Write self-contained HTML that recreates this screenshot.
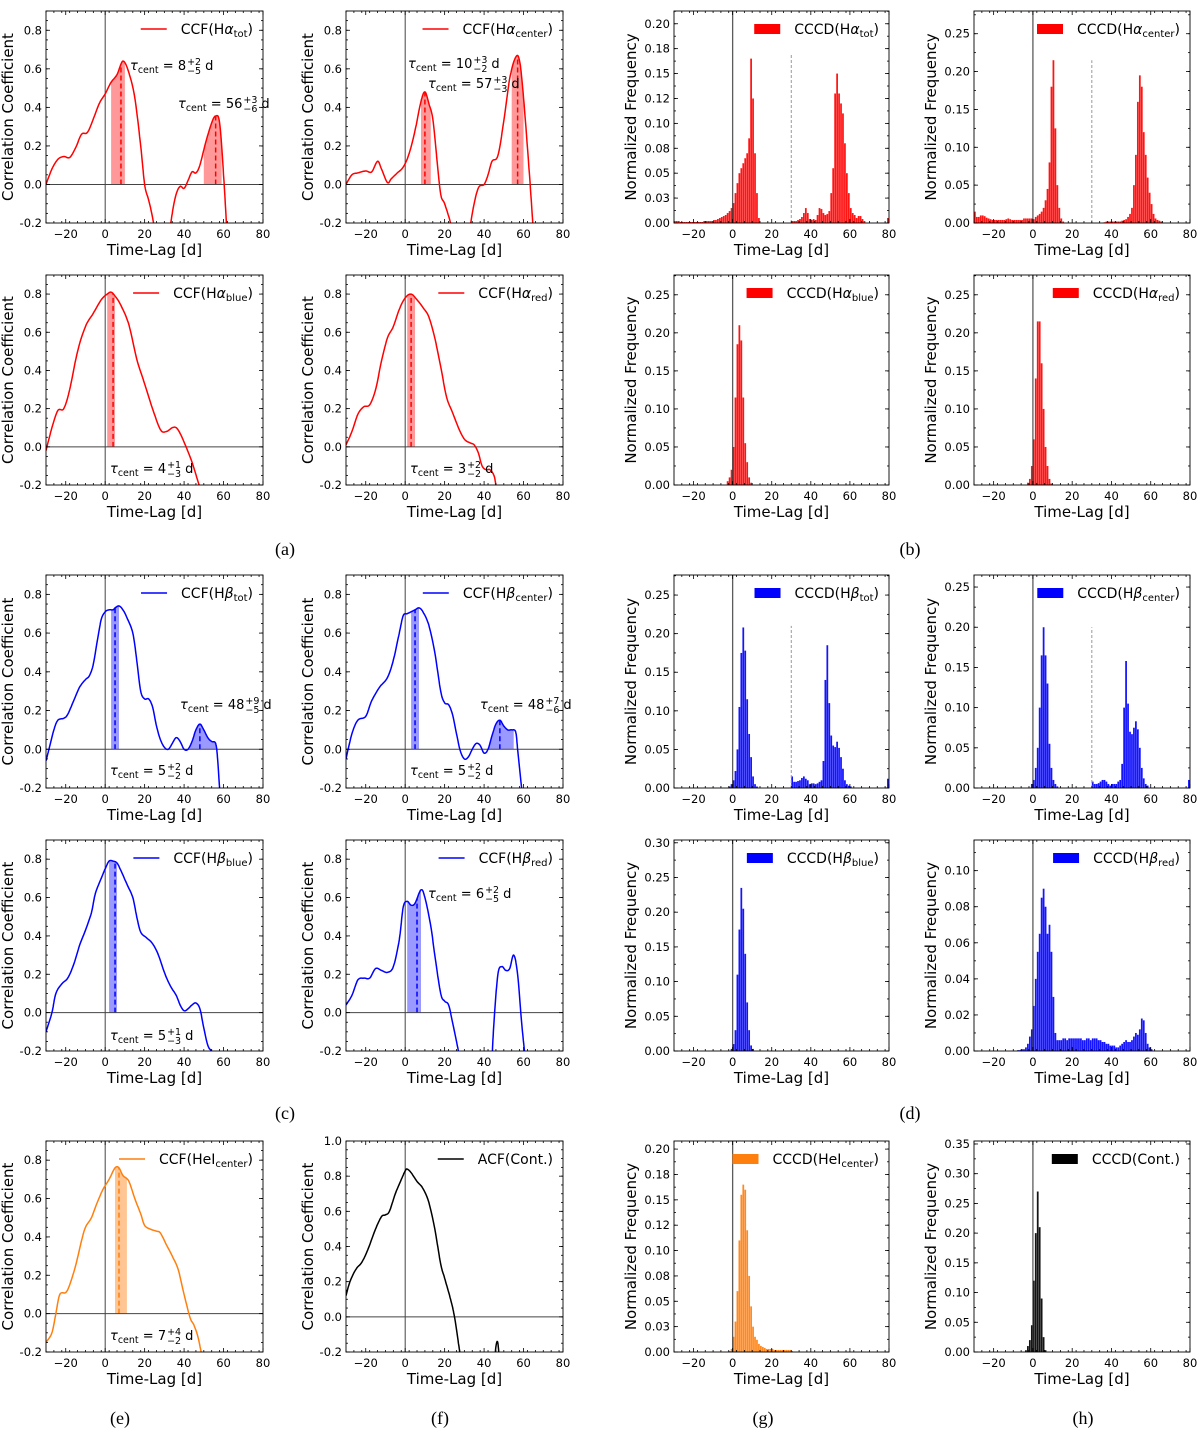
<!DOCTYPE html>
<html><head><meta charset="utf-8">
<style>
html,body{margin:0;padding:0;background:#fff;}
svg{display:block;font-family:"DejaVu Sans","Liberation Sans",sans-serif;}
</style></head>
<body>
<svg id="fig" width="1200" height="1432" viewBox="0 0 1200 1432" xmlns="http://www.w3.org/2000/svg"></svg>
<script>
// ---- CCF data (lag in days, correlation r); null breaks a curve ----
const haTotLag=[-30,-27,-24,-21,-18,-15,-12,-9,-6,-3,0,3,6,9,12,15,18,20,22,24,26,null,32,34,36,38,40,42,44,46,48,51,54,56,58,60,62];
const haTotR=[0,0.08,0.13,0.145,0.14,0.19,0.26,0.27,0.34,0.42,0.47,0.53,0.57,0.64,0.58,0.45,0.2,0,-0.08,-0.17,-0.3,null,-0.3,-0.15,-0.05,-0.01,-0.02,0.02,0.065,0.06,0.1,0.22,0.32,0.355,0.32,0.05,-0.3];
const haCenLag=[-30,-27,-24,-20,-17,-14,-12,-9,-7,-4,-1,2,5,8,10,12,14,16,18,20,23,25,null,32,34,37,40,42,44,47,50,53,56,58,60,63,65];
const haCenR=[0,0.05,0.06,0.07,0.065,0.12,0.08,0.01,0.03,0.06,0.09,0.16,0.28,0.43,0.48,0.42,0.34,0.14,-0.05,-0.1,-0.2,-0.3,null,-0.3,-0.15,-0.02,0,0.05,0.12,0.15,0.33,0.55,0.66,0.64,0.45,0.05,-0.25];
const haBlueLag=[-30,-27,-24,-21,-18,-14,-10,-6,-2,1,3,5,8,12,16,20,24,28,31,34,36,38,41,44,47,49];
const haBlueR=[-0.02,0.1,0.19,0.2,0.3,0.5,0.63,0.7,0.77,0.8,0.81,0.79,0.74,0.64,0.46,0.33,0.2,0.09,0.08,0.1,0.1,0.07,0,-0.08,-0.18,-0.25];
const haRedLag=[-30,-27,-24,-21,-18,-15,-12,-9,-6,-3,0,3,6,9,12,15,18,21,24,27,30,33,35,37,39,41,43,45,46,47];
const haRedR=[0.01,0.08,0.17,0.21,0.22,0.3,0.45,0.57,0.63,0.72,0.78,0.8,0.77,0.73,0.68,0.57,0.42,0.26,0.18,0.1,0.04,0.02,0.01,-0.03,-0.1,-0.12,-0.12,-0.15,-0.2,-0.25];
const hbTotLag=[-30,-28,-26,-24,-21,-19,-16,-13,-10,-8,-6,-4,-2,0,2,4,5,7,9,11,14,16,18,20,22,24,26,28,30,32,34,36,38,40,42,44,46,48,50,52,54,56,57,58,59];
const hbTotR=[-0.06,0.02,0.1,0.15,0.16,0.18,0.25,0.32,0.36,0.38,0.44,0.56,0.67,0.71,0.72,0.72,0.73,0.74,0.72,0.68,0.6,0.46,0.3,0.26,0.26,0.22,0.12,0.05,0.01,0,0.03,0.06,0.04,0,0,0.04,0.1,0.13,0.1,0.06,0.04,0.03,-0.05,-0.2,-0.3];
const hbCenLag=[-30,-27,-24,-20,-17,-13,-9,-6,-3,-1,1,3,5,7,9,12,15,18,20,22,24,26,28,30,32,34,36,38,40,42,44,46,48,50,52,54,56,57,58,59,60];
const hbCenR=[-0.05,0.08,0.15,0.17,0.25,0.32,0.37,0.46,0.6,0.69,0.7,0.71,0.72,0.73,0.71,0.64,0.5,0.3,0.24,0.23,0.18,0.08,-0.01,-0.05,-0.04,0,0.03,0.02,-0.02,0,0.07,0.13,0.15,0.12,0.1,0.1,0.09,0,-0.1,-0.2,-0.3];
const hbBlueLag=[-30,-27,-25,-22,-19,-16,-13,-10,-7,-5,-2,0,2,4,6,8,11,14,16,18,21,24,27,30,33,36,38,40,42,44,46,48,50,52,54,56];
const hbBlueR=[-0.1,0,0.1,0.15,0.18,0.25,0.35,0.43,0.52,0.62,0.7,0.75,0.79,0.79,0.78,0.74,0.67,0.6,0.5,0.42,0.39,0.36,0.3,0.21,0.14,0.09,0.04,0.01,0.02,0.04,0.05,0.02,-0.08,-0.17,-0.2,-0.22];
const hbRedLag=[-30,-27,-24,-21,-18,-15,-12,-9,-6,-3,-1,1,3,5,8,10,13,15,18,20,22,24,26,28,null,44,45,47,49,51,53,55,57,59,61];
const hbRedR=[0.04,0.09,0.17,0.18,0.18,0.23,0.22,0.21,0.24,0.38,0.55,0.58,0.56,0.57,0.64,0.6,0.45,0.3,0.1,0.06,0.04,-0.05,-0.15,-0.25,null,-0.25,-0.05,0.2,0.24,0.22,0.23,0.3,0.2,-0.05,-0.25];
const heiLag=[-30,-27,-25,-23,-20,-18,-15,-12,-10,-7,-4,-1,2,5,7,9,12,15,18,20,23,26,28,31,34,37,40,43,45,47,49];
const heiR=[-0.15,-0.1,0,0.1,0.11,0.15,0.25,0.38,0.45,0.5,0.58,0.65,0.7,0.76,0.76,0.72,0.69,0.6,0.52,0.46,0.44,0.43,0.42,0.36,0.3,0.23,0.1,-0.02,-0.06,-0.12,-0.22];
const acfLag=[-30,-28,-25,-22,-19,-15,-12,-10,-8,-5,-2,0,1,3,6,9,12,15,18,20,23,25,27,29,null,45,46,47,48];
const acfR=[0.12,0.2,0.27,0.31,0.38,0.5,0.57,0.58,0.6,0.7,0.78,0.83,0.84,0.82,0.77,0.73,0.65,0.5,0.3,0.22,0.1,0,-0.15,-0.3,null,-0.3,-0.17,-0.15,-0.3];

// ---- CCCD histogram data: first bin lag, then 1-day bin frequencies ----
const haTotStart=-30;
const haTotFreq=[0.002,0.002,0.002,0.001,0.001,0.001,0.001,0.001,0.001,0.001,0.001,0.001,0.001,0.001,0.001,0.002,0.002,0.002,0.002,0.002,0.003,0.003,0.004,0.005,0.006,0.007,0.008,0.01,0.012,0.015,0.02,0.03,0.04,0.05,0.055,0.06,0.065,0.07,0.085,0.165,0.125,0.07,0.03,0.005,0,0,0,0,0,0,0,0,0,0,0,0,0,0,0,0,0.002,0.002,0.002,0.003,0.004,0.006,0.01,0.015,0.01,0.004,0.003,0.004,0.003,0.008,0.015,0.014,0.01,0.008,0.009,0.012,0.03,0.055,0.13,0.15,0.13,0.12,0.11,0.08,0.05,0.03,0.015,0.01,0.008,0.005,0.007,0.007,0.004,0.002,0,0,0,0,0,0,0,0,0,0,0,0.005];
const haCenStart=-30;
const haCenFreq=[0.015,0.008,0.008,0.01,0.01,0.009,0.007,0.006,0.005,0.004,0.004,0.004,0.004,0.004,0.004,0.004,0.005,0.006,0.005,0.004,0.004,0.004,0.004,0.004,0.004,0.006,0.006,0.006,0.006,0.006,0.005,0.008,0.01,0.012,0.015,0.02,0.03,0.045,0.08,0.18,0.215,0.125,0.05,0.02,0.006,0.002,0,0,0,0,0,0,0,0,0,0,0,0,0,0,0,0,0,0,0,0,0.001,0.002,0.002,0.002,0.002,0.002,0.002,0.002,0.002,0.003,0.004,0.005,0.008,0.012,0.02,0.05,0.09,0.16,0.195,0.18,0.12,0.09,0.06,0.04,0.025,0.012,0.006,0.004,0.003,0.002];
const haBlueStart=-3;
const haBlueFreq=[0.005,0.01,0.02,0.05,0.115,0.185,0.21,0.19,0.115,0.055,0.03,0.01,0.003];
const haRedStart=-3;
const haRedFreq=[0.003,0.008,0.025,0.06,0.14,0.215,0.215,0.16,0.1,0.05,0.025,0.008,0.002];
const hbTotStart=-2;
const hbTotFreq=[0.002,0.005,0.01,0.022,0.05,0.105,0.175,0.208,0.178,0.115,0.07,0.04,0.015,0.005,0.002,0,0,0,0,0,0,0,0,0,0,0,0,0,0,0,0,0,0.015,0.008,0.008,0.009,0.01,0.013,0.015,0.012,0.01,0.005,0.006,0.006,0.005,0.006,0.008,0.01,0.035,0.14,0.185,0.11,0.068,0.055,0.053,0.06,0.052,0.04,0.025,0.01,0.005,0.003,0.002,0,0,0,0,0,0,0,0,0,0,0,0,0,0,0,0,0,0,0.012];
const hbCenStart=-1;
const hbCenFreq=[0.005,0.01,0.025,0.05,0.1,0.165,0.2,0.165,0.13,0.055,0.025,0.01,0.005,0.002,0,0,0,0,0,0,0,0,0,0,0,0,0,0,0,0,0,0.008,0.005,0.005,0.006,0.008,0.01,0.01,0.008,0.005,0.003,0.005,0.005,0.005,0.008,0.01,0.03,0.1,0.158,0.105,0.07,0.067,0.075,0.083,0.073,0.05,0.025,0.012,0.005,0.003,0,0,0,0,0,0,0,0,0,0,0,0,0,0,0,0,0,0,0,0,0.01];
const hbBlueStart=-1;
const hbBlueFreq=[0.003,0.01,0.03,0.11,0.175,0.235,0.205,0.14,0.07,0.03,0.008,0.003];
const hbRedStart=-8;
const hbRedFreq=[0.0005,0.0005,0.001,0.001,0.002,0.004,0.008,0.012,0.025,0.04,0.055,0.065,0.085,0.09,0.08,0.065,0.07,0.055,0.03,0.01,0.006,0.006,0.006,0.007,0.007,0.006,0.007,0.007,0.007,0.007,0.007,0.007,0.007,0.006,0.006,0.007,0.007,0.006,0.007,0.007,0.007,0.006,0.006,0.005,0.005,0.004,0.004,0.003,0.003,0.003,0.002,0.002,0.003,0.004,0.005,0.006,0.005,0.005,0.006,0.008,0.01,0.009,0.012,0.018,0.017,0.01,0.004,0.002,0.001];
const heiStart=-2;
const heiFreq=[0.001,0.003,0.015,0.03,0.06,0.11,0.155,0.165,0.16,0.12,0.075,0.045,0.025,0.015,0.012,0.008,0.006,0.005,0.004,0.003,0.003,0.003,0.003,0.002,0.002,0.002,0.002,0.002,0.002,0.002,0.002,0.002,0.001];
const contStart=-4;
const contFreq=[0.003,0.01,0.02,0.045,0.12,0.2,0.27,0.21,0.09,0.025,0.003];

// ---- tick labels ----
const xTicks=[-20,0,20,40,60,80];
const xTickLabels=["\u221220","0","20","40","60","80"];
const ccfYTicks=[-0.2,0,0.2,0.4,0.6,0.8];
const ccfYLabels=["-0.2","0.0","0.2","0.4","0.6","0.8"];
const acfYTicks=[-0.2,0,0.2,0.4,0.6,0.8,1.0];
const acfYLabels=["-0.2","0.0","0.2","0.4","0.6","0.8","1.0"];
const h20Ticks=[0,0.025,0.05,0.075,0.1,0.125,0.15,0.175,0.2];
const h20Labels=["0.00","0.03","0.05","0.08","0.10","0.12","0.15","0.18","0.20"];
const h25Ticks=[0,0.05,0.1,0.15,0.2,0.25];
const h25Labels=["0.00","0.05","0.10","0.15","0.20","0.25"];
const h30Ticks=[0,0.05,0.1,0.15,0.2,0.25,0.3];
const h30Labels=["0.00","0.05","0.10","0.15","0.20","0.25","0.30"];
const h35Ticks=[0,0.05,0.1,0.15,0.2,0.25,0.3,0.35];
const h35Labels=["0.00","0.05","0.10","0.15","0.20","0.25","0.30","0.35"];
const h10Ticks=[0,0.02,0.04,0.06,0.08,0.1];
const h10Labels=["0.00","0.02","0.04","0.06","0.08","0.10"];

const NS="http://www.w3.org/2000/svg";
const svg=document.getElementById('fig');
const COLS=[[46,263],[346,563],[674,889],[974,1190]];
const ROWS=[[11,223],[275,485],[575,788],[840,1051],[1141,1352]];
let clipId=0;

function mk(tag,parent){const e=document.createElementNS(NS,tag);parent.appendChild(e);return e;}

function axes(col,row,ymin,ymax,yT,yL,ylabel,name,yMinor){
  const [x0,x1]=COLS[col],[y0,y1]=ROWS[row];
  const g=mk('g',svg);
  
  
  const xs=v=>x0+(v+30)/110*(x1-x0);
  const ys=v=>y1-(v-ymin)/(ymax-ymin)*(y1-y0);
  const cid='c'+(clipId++);
  const cp=mk('clipPath',g);cp.setAttribute('id',cid);
  const cr=mk('rect',cp);cr.setAttribute('x',x0);cr.setAttribute('y',y0);cr.setAttribute('width',x1-x0);cr.setAttribute('height',y1-y0);
  const plot=mk('g',g);plot.setAttribute('clip-path','url(#'+cid+')');
  
  
  const tk=mk('g',g);tk.setAttribute('stroke','#000');tk.setAttribute('stroke-width','0.8');
  function line(p,a,b,c,d){const l=mk('line',p);l.setAttribute('x1',a);l.setAttribute('y1',b);l.setAttribute('x2',c);l.setAttribute('y2',d);return l;}
  for(let v=-30;v<=80;v+=4){ if(v%20===0) continue; const X=xs(v); line(tk,X,y1,X,y1-2);line(tk,X,y0,X,y0+2);}
  xTicks.forEach((v,i)=>{const X=xs(v);line(tk,X,y1,X,y1-4);line(tk,X,y0,X,y0+4);
    const t=mk('text',g);t.setAttribute('x',X);t.setAttribute('y',y1+15);t.setAttribute('text-anchor','middle');t.setAttribute('font-size','11.5');t.textContent=xTickLabels[i];
    
    });
  for(let v=ymin;v<=ymax+1e-9;v+=yMinor){const Y=ys(v);line(tk,x0,Y,x0+2,Y);line(tk,x1,Y,x1-2,Y);}
  yT.forEach((v,i)=>{const Y=ys(v);line(tk,x0,Y,x0+4,Y);line(tk,x1,Y,x1-4,Y);
    const t=mk('text',g);t.setAttribute('x',x0-4);t.setAttribute('y',Y+4);t.setAttribute('text-anchor','end');t.setAttribute('font-size','11.5');t.textContent=yL[i];
    
    });
  const fr=mk('rect',g);fr.setAttribute('x',x0);fr.setAttribute('y',y0);fr.setAttribute('width',x1-x0);fr.setAttribute('height',y1-y0);fr.setAttribute('fill','none');fr.setAttribute('stroke','#000');fr.setAttribute('stroke-width','0.9');
  
  
  const xl=mk('text',g);xl.setAttribute('x',(x0+x1)/2);xl.setAttribute('y',y1+32);xl.setAttribute('text-anchor','middle');xl.setAttribute('font-size','15');xl.textContent='Time-Lag [d]';
  
  
  const lx=x0-(col<2?33:38), ly=(y0+y1)/2;
  const yl=mk('text',g);yl.setAttribute('x',lx);yl.setAttribute('y',ly);yl.setAttribute('text-anchor','middle');yl.setAttribute('font-size','15');yl.setAttribute('transform','rotate(-90 '+lx+' '+ly+')');yl.textContent=ylabel;
  
  
  return {g,plot,xs,ys,x0,x1,y0,y1,line};
}

function spline(lags,vals){
  const segs=[];let cur=[];
  for(let i=0;i<lags.length;i++){ if(lags[i]===null){ if(cur.length) segs.push(cur); cur=[]; } else cur.push([lags[i],vals[i]]); }
  if(cur.length) segs.push(cur);
  return segs.map(p=>{const out=[];
    for(let i=0;i<p.length-1;i++){const a=p[Math.max(0,i-1)],b=p[i],c=p[i+1],d=p[Math.min(p.length-1,i+2)];
      for(let s=0;s<10;s++){const t=s/10,t2=t*t,t3=t2*t;
        const f=(q)=>0.5*((2*b[q])+(-a[q]+c[q])*t+(2*a[q]-5*b[q]+4*c[q]-d[q])*t2+(-a[q]+3*b[q]-3*c[q]+d[q])*t3);
        out.push([f(0),f(1)]);}}
    out.push(p[p.length-1]);return out;});
}
function valAt(segs,x){for(const s of segs){for(let i=0;i<s.length-1;i++){if(s[i][0]<=x&&s[i+1][0]>=x){const t=(x-s[i][0])/((s[i+1][0]-s[i][0])||1);return s[i][1]+t*(s[i+1][1]-s[i][1]);}}}return 0;}

function legendText(parent,x,y,parts){
  const t=mk('text',parent);t.setAttribute('x',x);t.setAttribute('y',y);t.setAttribute('font-size','14');t.setAttribute('text-anchor','end');
  parts.forEach(p=>{const s=mk('tspan',t);s.textContent=p[0];
    if(p[1]==='i') s.setAttribute('font-style','italic');
    if(p[1]==='sub'){s.setAttribute('font-size','10');s.setAttribute('dy','3');}
    if(p[1]==='after'){s.setAttribute('dy','-3');}});
  return t;
}
function legend(ax,parts,color,patch,name){
  const g=mk('g',ax.g);
  
  
  const tx=ax.x1-10, ty=ax.y0+23;
  const t=legendText(g,tx,ty,parts);
  const w=t.getComputedTextLength()+6;
  if(patch){const r=mk('rect',g);r.setAttribute('x',tx-w-34);r.setAttribute('y',ty-10);r.setAttribute('width',26);r.setAttribute('height',10);r.setAttribute('fill',color);
    
    }
  else{const l=ax.line(g,tx-w-34,ty-5,tx-w-8,ty-5);l.setAttribute('stroke',color);l.setAttribute('stroke-width','1.5');
    
    }
}
function tau(ax,x,y,val,plus,minus){
  const g=mk('g',ax.g);
  
  
  const t=mk('text',g);t.setAttribute('x',x);t.setAttribute('y',y);t.setAttribute('font-size','13');
  const a=mk('tspan',t);a.textContent='\u03c4';a.setAttribute('font-style','italic');
  const b=mk('tspan',t);b.textContent='cent';b.setAttribute('font-size','9.5');b.setAttribute('dy','3');
  const c=mk('tspan',t);c.textContent=' = '+val;c.setAttribute('dy','-3');
  const w=t.getComputedTextLength();
  const p=mk('text',g);p.setAttribute('x',x+w+1);p.setAttribute('y',y-5);p.setAttribute('font-size','9.5');p.textContent='+'+plus;
  const m=mk('text',g);m.setAttribute('x',x+w+1);m.setAttribute('y',y+4);m.setAttribute('font-size','9.5');m.textContent='\u2212'+minus;
  const w2=Math.max(p.getComputedTextLength(),m.getComputedTextLength());
  const d=mk('text',g);d.setAttribute('x',x+w+w2+5);d.setAttribute('y',y);d.setAttribute('font-size','13');d.textContent='d';
}
function shade(ax,segs,lo,hi,mid,color,fill){
  const pts=[[lo,0]];for(let v=lo;v<=hi+1e-9;v+=0.25)pts.push([v,valAt(segs,v)]);pts.push([hi,0]);
  const pg=mk('polygon',ax.plot);pg.setAttribute('points',pts.map(p=>ax.xs(p[0]).toFixed(1)+','+ax.ys(p[1]).toFixed(1)).join(' '));pg.setAttribute('fill',fill);pg.setAttribute('stroke','none');
  
  
  const l=ax.line(ax.plot,ax.xs(mid),ax.ys(0),ax.xs(mid),ax.ys(valAt(segs,mid)));l.setAttribute('stroke',color);l.setAttribute('stroke-width','1.5');l.setAttribute('stroke-dasharray','5,3');
  
  
}
function ccfPanel(col,row,lags,vals,color,fill,parts,shades,taus,isAcf){
  const ax=axes(col,row,-0.2,isAcf?1.0:0.9,isAcf?acfYTicks:ccfYTicks,isAcf?acfYLabels:ccfYLabels,'Correlation Coefficient',isAcf?'acf-panel':'ccf-panel',0.05);
  const segs=spline(lags,vals);
  shades.forEach(s=>shade(ax,segs,s[0],s[1],s[2],color,fill));
  const hz=ax.line(ax.plot,ax.x0,ax.ys(0),ax.x1,ax.ys(0));hz.setAttribute('stroke','#444');hz.setAttribute('stroke-width','1');
  
  
  const vz=ax.line(ax.plot,ax.xs(0),ax.y0,ax.xs(0),ax.y1);vz.setAttribute('stroke','#444');vz.setAttribute('stroke-width','1');
  
  
  segs.forEach(s=>{const p=mk('path',ax.plot);p.setAttribute('d','M'+s.map(q=>ax.xs(q[0]).toFixed(1)+','+ax.ys(q[1]).toFixed(1)).join('L'));p.setAttribute('fill','none');p.setAttribute('stroke',color);p.setAttribute('stroke-width','1.5');
    
    });
  legend(ax,parts,color,false,'legend');
  taus.forEach(t=>tau(ax,t[0],t[1],t[2],t[3],t[4]));
}
function histPanel(col,row,start,freq,color,ymax,yT,yL,yMinor,parts,dash){
  const ax=axes(col,row,0,ymax,yT,yL,'Normalized Frequency','cccd-panel',yMinor);
  freq.forEach((f,i)=>{ if(f<=0) return; const lag=start+i;
    const r=mk('rect',ax.plot);const xa=ax.xs(lag),xb=ax.xs(lag+1);
    r.setAttribute('x',xa.toFixed(2));r.setAttribute('width',(xb-xa-0.2).toFixed(2));r.setAttribute('y',ax.ys(f).toFixed(2));r.setAttribute('height',(ax.ys(0)-ax.ys(f)).toFixed(2));r.setAttribute('fill',color);r.setAttribute('fill-opacity','0.92');
    
    });
  const vz=ax.line(ax.plot,ax.xs(0),ax.y0,ax.xs(0),ax.y1);vz.setAttribute('stroke','#333');vz.setAttribute('stroke-width','1.3');vz.setAttribute('stroke-opacity','0.8');
  
  
  if(dash){const d=ax.line(ax.plot,ax.xs(30),ax.ys(0),ax.xs(30),ax.ys(dash));d.setAttribute('stroke','#999');d.setAttribute('stroke-width','1');d.setAttribute('stroke-dasharray','3,2');
    
    }
  legend(ax,parts,color,true,'legend');
}

const RED='#ff0000',BLUE='#0000ff',ORG='#ff7f0e';
ccfPanel(0,0,haTotLag,haTotR,RED,'rgba(255,0,0,0.4)',[['CCF(H'],['\u03b1','i'],['tot','sub'],[')','after']],[[3,10,8],[50,59,56]],[[130,70,'8','2','5'],[178,108,'56','3','6']]);
ccfPanel(1,0,haCenLag,haCenR,RED,'rgba(255,0,0,0.4)',[['CCF(H'],['\u03b1','i'],['center','sub'],[')','after']],[[8,13,10],[54,60,57]],[[408,68,'10','3','2'],[428,88,'57','3','3']]);
ccfPanel(0,1,haBlueLag,haBlueR,RED,'rgba(255,0,0,0.4)',[['CCF(H'],['\u03b1','i'],['blue','sub'],[')','after']],[[1,5,4]],[[110,473,'4','1','3']]);
ccfPanel(1,1,haRedLag,haRedR,RED,'rgba(255,0,0,0.4)',[['CCF(H'],['\u03b1','i'],['red','sub'],[')','after']],[[1,5,3]],[[410,473,'3','2','2']]);
ccfPanel(0,2,hbTotLag,hbTotR,BLUE,'rgba(0,0,255,0.4)',[['CCF(H'],['\u03b2','i'],['tot','sub'],[')','after']],[[3,7,5],[43,57,48]],[[180,709,'48','9','5'],[110,775,'5','2','2']]);
ccfPanel(1,2,hbCenLag,hbCenR,BLUE,'rgba(0,0,255,0.4)',[['CCF(H'],['\u03b2','i'],['center','sub'],[')','after']],[[3,7,5],[42,55,48]],[[480,709,'48','7','6'],[410,775,'5','2','2']]);
ccfPanel(0,3,hbBlueLag,hbBlueR,BLUE,'rgba(0,0,255,0.4)',[['CCF(H'],['\u03b2','i'],['blue','sub'],[')','after']],[[2,6,5]],[[110,1040,'5','1','3']]);
ccfPanel(1,3,hbRedLag,hbRedR,BLUE,'rgba(0,0,255,0.4)',[['CCF(H'],['\u03b2','i'],['red','sub'],[')','after']],[[1,8,6]],[[428,898,'6','2','5']]);
ccfPanel(0,4,heiLag,heiR,ORG,'rgba(255,127,14,0.45)',[['CCF(HeI'],['center','sub'],[')','after']],[[5,11,7]],[[110,1340,'7','4','2']]);
ccfPanel(1,4,acfLag,acfR,'#000','none',[['ACF(Cont.)']],[],[],true);

histPanel(2,0,haTotStart,haTotFreq,RED,0.2128,h20Ticks,h20Labels,0.0125,[['CCCD(H'],['\u03b1','i'],['tot','sub'],[')','after']],0.17);
histPanel(3,0,haCenStart,haCenFreq,RED,0.28,h25Ticks,h25Labels,0.025,[['CCCD(H'],['\u03b1','i'],['center','sub'],[')','after']],0.215);
histPanel(2,1,haBlueStart,haBlueFreq,RED,0.276,h25Ticks,h25Labels,0.025,[['CCCD(H'],['\u03b1','i'],['blue','sub'],[')','after']],0);
histPanel(3,1,haRedStart,haRedFreq,RED,0.276,h25Ticks,h25Labels,0.025,[['CCCD(H'],['\u03b1','i'],['red','sub'],[')','after']],0);
histPanel(2,2,hbTotStart,hbTotFreq,BLUE,0.276,h25Ticks,h25Labels,0.025,[['CCCD(H'],['\u03b2','i'],['tot','sub'],[')','after']],0.21);
histPanel(3,2,hbCenStart,hbCenFreq,BLUE,0.265,h25Ticks,h25Labels,0.025,[['CCCD(H'],['\u03b2','i'],['center','sub'],[')','after']],0.2);
histPanel(2,3,hbBlueStart,hbBlueFreq,BLUE,0.304,h30Ticks,h30Labels,0.025,[['CCCD(H'],['\u03b2','i'],['blue','sub'],[')','after']],0);
histPanel(3,3,hbRedStart,hbRedFreq,BLUE,0.117,h10Ticks,h10Labels,0.01,[['CCCD(H'],['\u03b2','i'],['red','sub'],[')','after']],0);
histPanel(2,4,heiStart,heiFreq,ORG,0.208,h20Ticks,h20Labels,0.0125,[['CCCD(HeI'],['center','sub'],[')','after']],0);
histPanel(3,4,contStart,contFreq,'#000',0.355,h35Ticks,h35Labels,0.025,[['CCCD(Cont.)']],0);

const letters=[['(a)',285,555],['(b)',910,555],['(c)',285,1119],['(d)',910,1119],['(e)',120,1424],['(f)',440,1424],['(g)',763,1424],['(h)',1083,1424]];
letters.forEach(l=>{const t=mk('text',svg);t.setAttribute('x',l[1]);t.setAttribute('y',l[2]);t.setAttribute('text-anchor','middle');t.setAttribute('font-size','18');t.setAttribute('font-family','"Liberation Serif",serif');t.textContent=l[0];
  
  });
</script>
</body></html>
